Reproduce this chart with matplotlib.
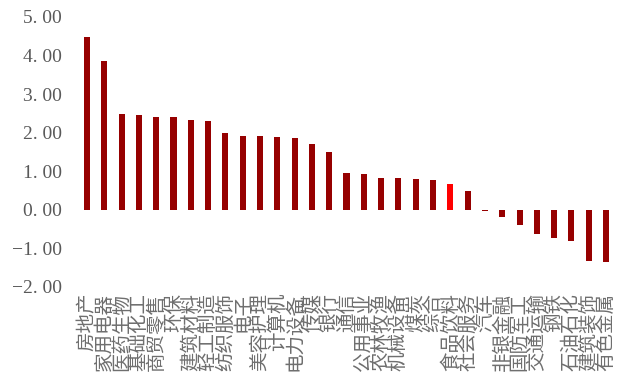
import matplotlib
matplotlib.use('Agg')
import matplotlib.pyplot as plt
import numpy as np

# weekly change by industry (%)
industries = ['房地产', '家用电器', '医药生物', '基础化工', '商贸零售', '环保',
              '建筑材料', '轻工制造', '纺织服饰', '电子', '美容护理', '计算机',
              '电力设备', '传媒', '银行', '通信', '公用事业', '农林牧渔',
              '机械设备', '煤炭', '综合', '食品饮料', '社会服务', '汽车',
              '非银金融', '国防军工', '交通运输', '钢铁', '石油石化',
              '建筑装饰', '有色金属']
changes = [4.47, 3.87, 2.49, 2.46, 2.41, 2.41, 2.33, 2.31, 1.99, 1.92,
           1.92, 1.89, 1.87, 1.71, 1.50, 0.96, 0.93, 0.83, 0.83, 0.80,
           0.78, 0.66, 0.48, -0.03, -0.19, -0.40, -0.63, -0.74, -0.82,
           -1.33, -1.36]
highlight = '食品饮料'
yticks = [-2, -1, 0, 1, 2, 3, 4, 5]

fig = plt.figure(figsize=(6.19, 3.87), dpi=100)
ax = fig.add_axes([0.1265, 0.2584, 0.8666, 0.6977])

x = np.arange(len(industries))
colors = ['#FF0000' if n == highlight else '#960000' for n in industries]
ax.bar(x, changes, width=0.35, color=colors)

ax.set_xlim(-0.5, len(industries) - 0.5)
ax.set_ylim(min(yticks), max(yticks))
ax.set_yticks(yticks)
ax.set_yticklabels([f'{v:.2f}'.replace('.', '. ').replace('-', '\u2212') for v in yticks],
                   family='Liberation Serif', fontsize=14, color='#595959')
ax.set_xticks(x)
ax.set_xticklabels(industries, rotation=90, rotation_mode='anchor',
                   ha='right', va='center', family='Noto Sans CJK SC',
                   fontsize=14, color='#6e6e6e')
ax.tick_params(length=0)
ax.tick_params(axis='y', pad=12)
ax.tick_params(axis='x', pad=4)
for s in ax.spines.values():
    s.set_visible(False)

fig.savefig('out.png', dpi=100)
